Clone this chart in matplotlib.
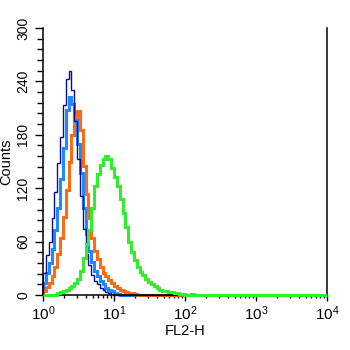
import matplotlib
matplotlib.use("Agg")
import matplotlib.pyplot as plt
import numpy as np
from matplotlib.ticker import MultipleLocator, LogLocator

plt.rcParams["font.family"] = ["Liberation Sans", "DejaVu Sans"]
plt.rcParams["mathtext.fontset"] = "custom"
plt.rcParams["mathtext.rm"] = "Liberation Sans"
plt.rcParams["mathtext.it"] = "Liberation Sans:italic"

# histogram channels: 0.04-decade bins on the FL2-H log scale, 10^0 .. 10^4
BIN_W = 0.04
N_BINS = 100

# counts per channel, starting at 10^0 (remaining channels are empty)
isotype = [25, 45, 60, 86, 116, 148, 178, 213, 243, 252, 230, 196, 153, 111,
           74, 46, 34, 23, 16, 12, 8, 6, 3, 2, 1]
unstained = [14, 25, 36, 52, 73, 98, 130, 165, 208, 223, 215, 197, 170, 137,
             98, 69, 49, 37, 27, 21, 16, 12, 8, 6, 4, 2, 1]
control = [5, 9, 13, 21, 31, 46, 64, 88, 118, 150, 180, 200, 207, 185, 145,
           114, 87, 64, 50, 40, 32, 25, 21, 17, 13, 10, 8, 6, 4, 3, 2, 2, 1]
stained = [0, 0, 0, 0, 0, 2, 3, 5, 6, 8, 10, 13, 18, 27, 42, 57, 73, 98, 122,
           136, 146, 153, 156, 153, 143, 133, 122, 108, 92, 76, 60, 48, 39,
           32, 26, 22, 18, 15, 12, 10, 8, 6, 5, 4, 3, 3, 2, 2, 1, 1, 0, 0, 1]

SERIES = [
    (unstained, "#1a8cff", 2.2, 2.0),
    (control, "#ff6a12", 2.2, 2.1),
    (isotype, "#0b0ba6", 1.0, 2.2),
    (stained, "#2ef02a", 2.2, 3.0),
]

edges = 10 ** (np.arange(N_BINS + 1) * BIN_W)

fig = plt.figure(figsize=(3.5, 3.5), dpi=100)
ax = fig.add_axes([43 / 350, 55 / 350, 284 / 350, 267 / 350])

for counts, color, lw, z in SERIES:
    vals = np.pad(np.asarray(counts, float), (0, N_BINS - len(counts)))
    ax.stairs(vals, edges, color=color, lw=lw, zorder=z, clip_on=False)

ax.set_xscale("log")
ax.set_xlim(1, 1e4)
ax.set_ylim(0, 300)

ax.yaxis.set_major_locator(MultipleLocator(60))
ax.yaxis.set_minor_locator(MultipleLocator(12))
ax.xaxis.set_major_locator(LogLocator(base=10, numticks=10))
ax.xaxis.set_minor_locator(LogLocator(base=10, subs=np.arange(2, 10), numticks=20))

ax.spines["top"].set_visible(False)
for s in ("left", "right", "bottom"):
    ax.spines[s].set_linewidth(1.1)

ax.tick_params(axis="y", which="major", length=6, width=1.0, pad=3,
               labelsize=10, labelrotation=90)
ax.tick_params(axis="y", which="minor", length=4.5, width=1.0)
ax.tick_params(axis="x", which="major", length=4.5, width=1.0, pad=2,
               labelsize=11)
ax.tick_params(axis="x", which="minor", length=2.5, width=1.0)
for lbl in ax.get_yticklabels():
    lbl.set_va("center")

ax.set_xlabel("FL2-H", fontsize=10.5, labelpad=1)
ax.set_ylabel("Counts", fontsize=10.5, labelpad=2)

fig.savefig("out.png", dpi=100)
